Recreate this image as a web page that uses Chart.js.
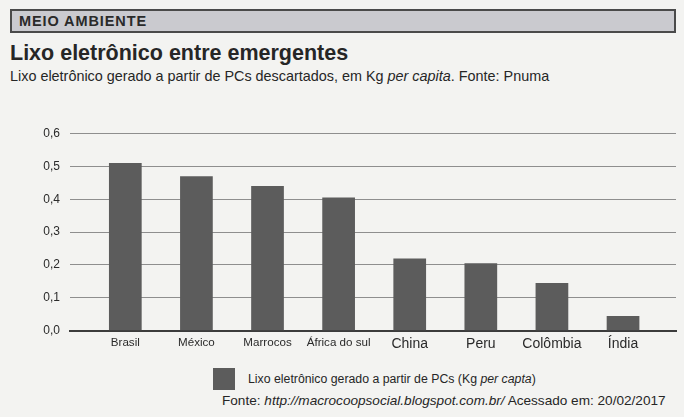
<!DOCTYPE html>
<html>
<head>
<meta charset="utf-8">
<script src="https://cdn.jsdelivr.net/npm/chart.js@4.4.1/dist/chart.umd.min.js"></script>
<style>
  html, body { margin: 0; padding: 0; }
  body { width: 684px; height: 417px; background: #f3f3f1; position: relative; overflow: hidden;
         font-family: "Liberation Sans", Arial, sans-serif; color: #262626; }
  #hdr { position: absolute; left: 10px; top: 9px; width: 662px; height: 20px; border: 2px solid #4a4a4a;
         background: #cacacf; }
  #hdr span { position: absolute; left: 7px; top: 2px; font-weight: bold; font-size: 14.5px; letter-spacing: 0.9px; color: #2a2a2a; }
  #title { position: absolute; left: 10px; top: 41px; font-weight: bold; font-size: 21.5px; white-space: nowrap; }
  #sub { position: absolute; left: 10px; top: 68px; font-size: 14.4px; white-space: nowrap; }
  #wrap { position: absolute; left: 0; top: 100px; width: 684px; height: 260px; }
  #legend { position: absolute; left: 213px; top: 368px; height: 22px; white-space: nowrap; font-size: 12.3px; }
  #legend .box { position: absolute; left: 0; top: 0; width: 22px; height: 22px; background: #5c5c5c; }
  #legend .txt { position: absolute; left: 35px; top: 4px; }
  #src { position: absolute; left: 222px; top: 393px; font-size: 13.6px; white-space: nowrap; }
</style>
</head>
<body>
<div id="hdr"><span>MEIO AMBIENTE</span></div>
<div id="title">Lixo eletrônico entre emergentes</div>
<div id="sub">Lixo eletrônico gerado a partir de PCs descartados, em Kg <i>per capita</i>. Fonte: Pnuma</div>
<div id="wrap"><canvas id="c"></canvas></div>
<div id="legend"><div class="box"></div><div class="txt">Lixo eletrônico gerado a partir de PCs (Kg <i>per capta</i>)</div></div>
<div id="src">Fonte: <i>http://macrocoopsocial.blogspot.com.br/</i> Acessado em: 20/02/2017</div>
<script>
const categories = ['Brasil', 'México', 'Marrocos', 'África do sul', 'China', 'Peru', 'Colômbia', 'Índia'];
const values = [0.51, 0.47, 0.44, 0.405, 0.22, 0.205, 0.145, 0.045];
const yTickValues = [0, 0.1, 0.2, 0.3, 0.4, 0.5, 0.6];
const seriesLabel = 'Lixo eletrônico gerado a partir de PCs (Kg per capta)';

const points = categories.map((c, i) => ({ x: i, y: values[i] }));

new Chart(document.getElementById('c'), {
  type: 'bar',
  data: {
    datasets: [{
      label: seriesLabel,
      data: points,
      backgroundColor: '#5c5c5c',
      borderWidth: 0,
      barPercentage: 0.46,
      categoryPercentage: 1
    }]
  },
  options: {
    responsive: true,
    maintainAspectRatio: false,
    animation: false,
    layout: { padding: { top: 33.5, right: 8, left: 0, bottom: 0 } },
    plugins: { legend: { display: false }, tooltip: { enabled: false } },
    scales: {
      x: {
        type: 'linear',
        offset: false,
        min: -0.778,
        max: 7.745,
        grid: { display: false, drawTicks: false, offset: false },
        border: { display: true, color: '#3c3c3c', width: 2 },
        afterBuildTicks: s => { s.ticks = categories.map((c, i) => ({ value: i })); },
        afterFit: s => { s.height = 29.3; },
        ticks: {
          autoSkip: false,
          maxRotation: 0,
          padding: 5,
          color: '#2a2a2a',
          font: ctx => ({ family: '"Liberation Sans", Arial, sans-serif', size: (ctx.tick && ctx.tick.value >= 4) ? 14 : 11.6 }),
          callback: v => categories[v] !== undefined ? categories[v] : ''
        }
      },
      y: {
        min: 0,
        max: 0.6,
        afterBuildTicks: s => { s.ticks = yTickValues.map(v => ({ value: v })); },
        afterFit: s => { s.width = 70; },
        grid: { color: '#8e8e8e', lineWidth: 1, drawTicks: false },
        border: { display: false },
        ticks: {
          padding: 10,
          color: '#2a2a2a',
          font: { family: '"Liberation Sans", Arial, sans-serif', size: 12 },
          callback: v => v.toFixed(1).replace('.', ',')
        }
      }
    }
  }
});
</script>
</body>
</html>
